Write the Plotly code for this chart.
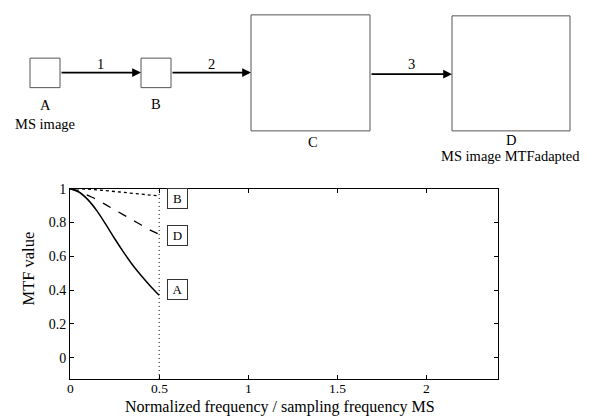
import plotly.graph_objects as go

W, H = 595, 418

# ---- data ----
freq = [0.0, 0.05, 0.10, 0.15, 0.20, 0.25, 0.30, 0.35, 0.40, 0.45, 0.50]
mtf_A = [1.0, 0.98, 0.935, 0.87, 0.79, 0.705, 0.625, 0.55, 0.485, 0.425, 0.37]
mtf_B = [1.0, 0.999, 0.997, 0.993, 0.988, 0.983, 0.978, 0.972, 0.967, 0.962, 0.957]
mtf_D = [1.0, 0.985, 0.96, 0.935, 0.905, 0.875, 0.845, 0.815, 0.785, 0.755, 0.73]
nyquist = 0.5
x_ticks = [0, 0.5, 1, 1.5, 2]
x_ticklabels = ["0", "0.5", "1", "1.5", "2"]
y_ticks = [0, 0.2, 0.4, 0.6, 0.8, 1]
y_ticklabels = ["0", "0.2", "0.4", "0.6", "0.8", "1"]
curve_labels = ["B", "D", "A"]
curve_label_y = [0.94, 0.72, 0.405]

FONT = "Liberation Serif, Times New Roman, DejaVu Serif, serif"

def px(x):
    return x / W

def py(y):
    return 1 - y / H

fig = go.Figure()

fig.add_trace(go.Scatter(x=freq, y=mtf_A, mode="lines",
                         line=dict(color="black", width=1.5, dash="solid", shape="spline"),
                         showlegend=False))
fig.add_trace(go.Scatter(x=freq, y=mtf_D, mode="lines",
                         line=dict(color="black", width=1.3, dash="dash", shape="spline"),
                         showlegend=False))
fig.add_trace(go.Scatter(x=freq, y=mtf_B, mode="lines",
                         line=dict(color="black", width=1.3, dash="dot", shape="spline"),
                         showlegend=False))
fig.add_trace(go.Scatter(x=[nyquist, nyquist], y=[-0.125, 1], mode="lines",
                         line=dict(color="black", width=1, dash="1px,3px"), showlegend=False))

annotations = []
for lab, yv in zip(curve_labels, curve_label_y):
    annotations.append(dict(x=0.604, y=yv, xref="x", yref="y", text=lab, showarrow=False,
                            xanchor="center", yanchor="middle",
                            font=dict(family=FONT, size=13, color="black"),
                            bordercolor="#333", borderwidth=1, borderpad=2, bgcolor="white",
                            width=15))

# x tick labels (placed just under the axis, as in the reference)
for tv, tl in zip(x_ticks, x_ticklabels):
    annotations.append(dict(x=tv, y=py(388), xref="x", yref="paper", text=tl,
                            xanchor="center", yanchor="middle", showarrow=False,
                            font=dict(family=FONT, size=13.5, color="black")))

# axis titles
annotations.append(dict(x=px(280), y=0, xref="paper", yref="paper",
                        xanchor="center", yanchor="bottom",
                        text="Normalized frequency / sampling frequency MS", showarrow=False,
                        font=dict(family=FONT, size=16, color="black")))
annotations.append(dict(x=px(29), y=py(266), xref="paper", yref="paper",
                        xanchor="center", yanchor="middle",
                        text="MTF value", textangle=-90, showarrow=False,
                        font=dict(family=FONT, size=16.5, color="black")))

# ---- block diagram ----
shapes = []
boxes = [(30, 52, 60, 82), (141, 52, 171, 82), (251, 8, 370, 126), (452, 9, 570, 126)]
for x0, y0, x1, y1 in boxes:
    shapes.append(dict(type="rect", xref="paper", yref="paper",
                       x0=px(x0), x1=px(x1), y0=py(y0), y1=py(y1),
                       line=dict(color="#555", width=1)))

arrows = [(60, 141, 66.7, "1"), (171, 251, 66.7, "2"), (370, 452, 68.3, "3")]
for xa, xb, yy, lab in arrows:
    annotations.append(dict(x=px(xb), y=py(yy), xref="paper", yref="paper",
                            ax=xa - xb, ay=0, axref="pixel", ayref="pixel",
                            text="", showarrow=True, arrowhead=2, arrowsize=1.1,
                            arrowwidth=1.6, arrowcolor="black", standoff=0, startstandoff=0))
    annotations.append(dict(x=px((xa + xb) / 2), y=py(58), xref="paper", yref="paper",
                            xanchor="center", yanchor="middle",
                            text=lab, showarrow=False,
                            font=dict(family=FONT, size=14.5, color="black")))

diagram_texts = [(45, 100, "A"), (45, 119, "MS image"), (156, 99, "B"),
                 (313, 137, "C"), (511, 135, "D"), (511, 152, "MS image MTFadapted")]
for x, y, t in diagram_texts:
    annotations.append(dict(x=px(x), y=py(y), xref="paper", yref="paper", text=t,
                            xanchor="center", yanchor="middle",
                            showarrow=False, font=dict(family=FONT, size=14.5, color="black")))

fig.update_layout(
    width=W, height=H,
    margin=dict(l=0, r=0, t=0, b=0),
    paper_bgcolor="white", plot_bgcolor="white",
    showlegend=False,
    xaxis=dict(domain=[px(70), px(498)], range=[0, 2.4], tickvals=x_ticks, showticklabels=False,
               ticks="inside", ticklen=4, tickcolor="black", showgrid=False, zeroline=False,
               showline=True, linecolor="black", linewidth=1, mirror="ticks"),
    yaxis=dict(domain=[1 - 378.3 / H, 1 - 184.7 / H], range=[-0.125, 1], tickvals=y_ticks,
               ticktext=y_ticklabels, ticks="inside", ticklen=4, tickcolor="black",
               showgrid=False, zeroline=False, showline=True, linecolor="black", linewidth=1,
               mirror="ticks", tickfont=dict(family=FONT, size=14, color="black")),
    shapes=shapes,
    annotations=annotations,
)

fig.write_html("out.html", config={"displayModeBar": False},
               post_script="document.body.style.margin='0';document.body.style.padding='0';")
